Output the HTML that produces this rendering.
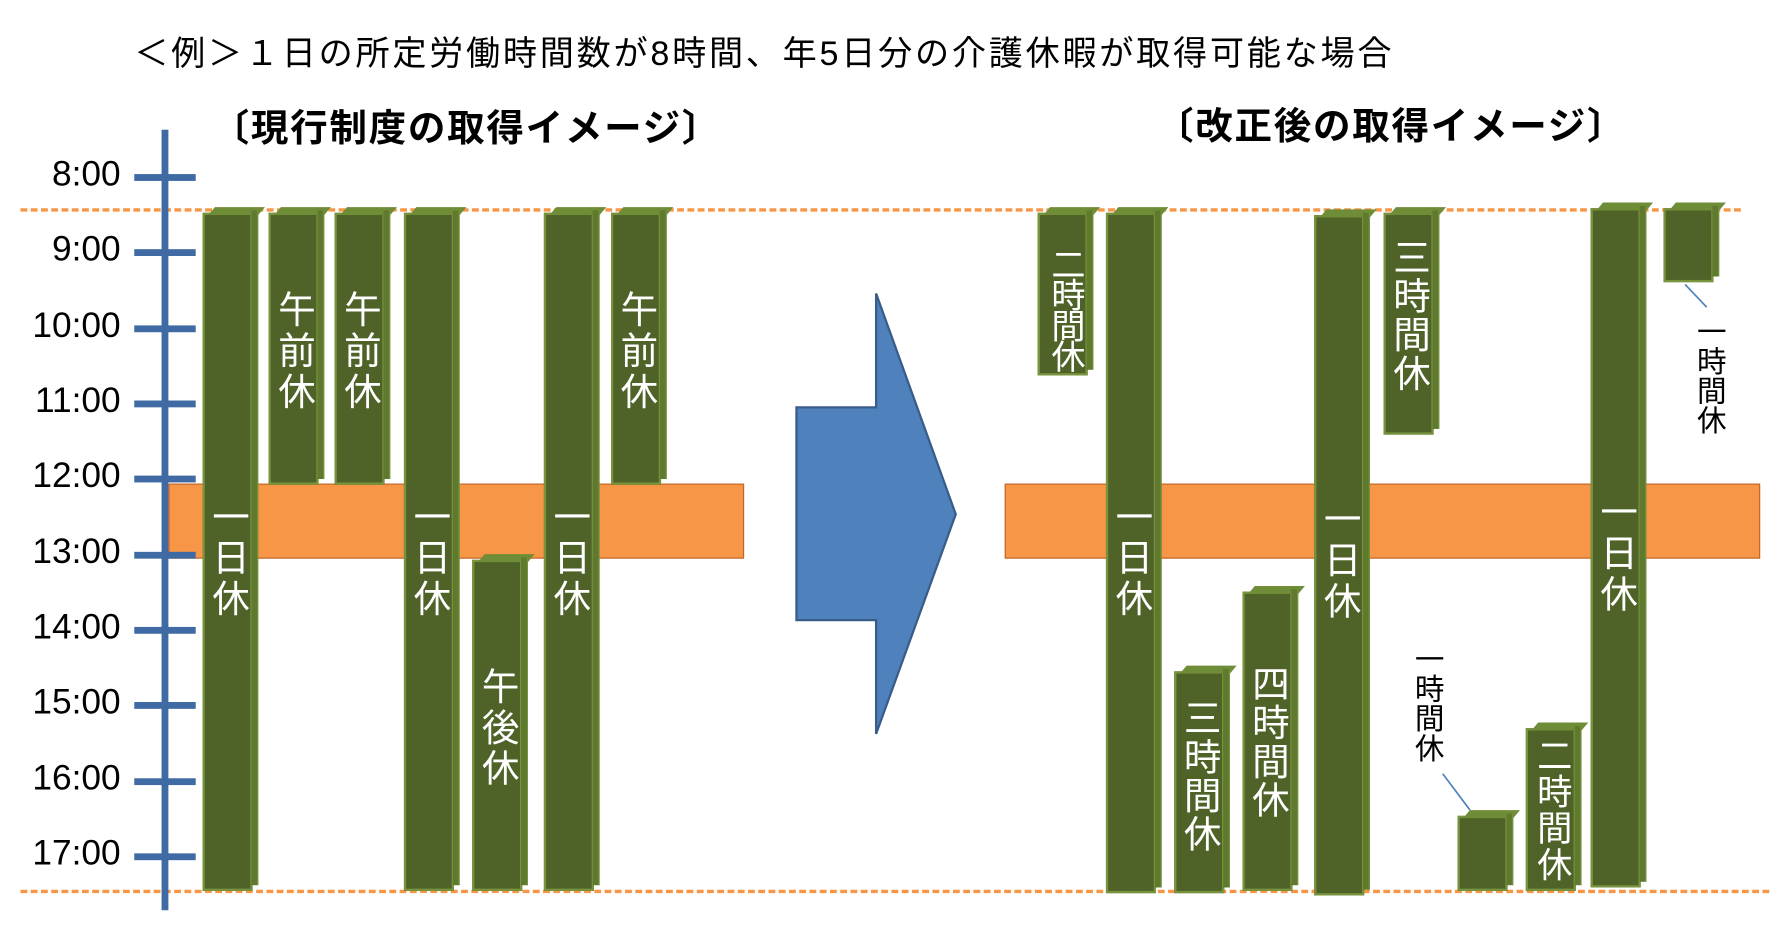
<!DOCTYPE html>
<html><head><meta charset="utf-8"><style>
body{margin:0;width:1784px;height:926px;background:#fff;overflow:hidden;font-family:"Liberation Sans","Noto Sans CJK JP",sans-serif}
#s{position:absolute;left:0;top:0;width:1568px;height:814px;transform:scale(1.1378);transform-origin:0 0}
.a{position:absolute}
.t{font-size:30px;color:#000;white-space:nowrap}
.h{position:absolute;font-size:31px;color:#000;width:104px;text-align:right;left:2px}
.k{position:absolute;left:118px;width:54px;height:6px;background:#3f6aa3}
.b{position:absolute;width:44px;background:#4f6228;border:2px solid #77933c;box-sizing:border-box}
.b::before{content:"";position:absolute;left:3px;right:-7px;top:-7px;height:7px;background:#6f8c36;transform:skewX(-40deg);transform-origin:0 100%}
.b::after{content:"";position:absolute;right:-7px;width:5px;top:-4px;bottom:3px;background:#5f7a2f;border-right:1px solid #77933c}
.v{position:absolute;left:0;width:40px;writing-mode:vertical-rl;text-orientation:upright;color:#fff;font-size:33px;line-height:40px;letter-spacing:3px}
.o{position:absolute;background:#f79646;border:1px solid #c0662a;height:64px;top:425px}
.d{position:absolute;height:0;border-top:3px dashed #f79646}
.n{position:absolute;writing-mode:vertical-rl;text-orientation:upright;font-size:26px;line-height:28px;color:#000}
</style></head><body><div id="s">
<div class="a t" style="left:118px;top:22px;letter-spacing:2.4px">＜例＞１日の所定労働時間数が8時間、年5日分の介護休暇が取得可能な場合</div>
<div class="a t" style="left:186px;top:86px;font-size:33px;font-weight:bold;letter-spacing:1.5px">〔現行制度の取得イメージ〕</div>
<div class="a t" style="left:1016px;top:84px;font-size:33px;font-weight:bold;letter-spacing:1.5px">〔改正後の取得イメージ〕</div>

<div class="o" style="left:148px;width:504px"></div>
<div class="o" style="left:883px;width:662px"></div>
<div class="d" style="left:18px;width:1512px;top:183px"></div>
<div class="d" style="left:18px;width:1537px;top:782px"></div>

<div class="a" style="left:142px;top:114px;width:6px;height:686px;background:#3f6aa3"></div>
<div class="k" style="top:153px"></div><div class="h" style="top:135px">8:00</div>
<div class="k" style="top:219px"></div><div class="h" style="top:201px">9:00</div>
<div class="k" style="top:286px"></div><div class="h" style="top:268px">10:00</div>
<div class="k" style="top:352px"></div><div class="h" style="top:334px">11:00</div>
<div class="k" style="top:418px"></div><div class="h" style="top:400px">12:00</div>
<div class="k" style="top:485px"></div><div class="h" style="top:467px">13:00</div>
<div class="k" style="top:551px"></div><div class="h" style="top:533px">14:00</div>
<div class="k" style="top:617px"></div><div class="h" style="top:599px">15:00</div>
<div class="k" style="top:684px"></div><div class="h" style="top:666px">16:00</div>
<div class="k" style="top:750px"></div><div class="h" style="top:732px">17:00</div>

<svg class="a" style="left:0;top:0" width="1568" height="814">
<polygon points="700,358 770,358 770,258 840,452 770,645 770,545 700,545" fill="#4f81bd" stroke="#385d8a" stroke-width="2"/>
<line x1="1268" y1="680" x2="1292" y2="712" stroke="#4f81bd" stroke-width="1.5"/>
<line x1="1481" y1="250" x2="1500" y2="270" stroke="#4f81bd" stroke-width="1.5"/>
</svg>

<div class="b" style="left:178px;top:187px;height:596px"><div class="v" style="top:248px">一日休</div></div>
<div class="b" style="left:236px;top:187px;height:239px"><div class="v" style="top:66px">午前休</div></div>
<div class="b" style="left:294px;top:187px;height:239px"><div class="v" style="top:66px">午前休</div></div>
<div class="b" style="left:355px;top:187px;height:596px"><div class="v" style="top:248px">一日休</div></div>
<div class="b" style="left:415px;top:492px;height:291px"><div class="v" style="top:92px">午後休</div></div>
<div class="b" style="left:478px;top:187px;height:596px"><div class="v" style="top:248px">一日休</div></div>
<div class="b" style="left:537px;top:187px;height:239px"><div class="v" style="top:66px">午前休</div></div>

<div class="b" style="left:912px;top:187px;height:143px"><div class="v" style="top:28px;font-size:30px;line-height:27px;letter-spacing:-3px;left:5px;width:30px">二時間休</div></div>
<div class="b" style="left:972px;top:187px;height:598px"><div class="v" style="top:248px">一日休</div></div>
<div class="b" style="left:1032px;top:590px;height:195px"><div class="v" style="top:22px;letter-spacing:1px">三時間休</div></div>
<div class="b" style="left:1092px;top:520px;height:263px"><div class="v" style="top:62px;letter-spacing:1px">四時間休</div></div>
<div class="b" style="left:1155px;top:189px;height:598px"><div class="v" style="top:248px">一日休</div></div>
<div class="b" style="left:1216px;top:187px;height:195px"><div class="v" style="top:20px;letter-spacing:1px">三時間休</div></div>
<div class="b" style="left:1281px;top:717px;height:66px"></div>
<div class="b" style="left:1341px;top:640px;height:143px"><div class="v" style="top:6px;font-size:31px;line-height:32px;letter-spacing:1px;left:4px;width:32px">二時間休</div></div>
<div class="b" style="left:1398px;top:183px;height:597px"><div class="v" style="top:248px">一日休</div></div>
<div class="b" style="left:1462px;top:183px;height:65px"></div>

<div class="n" style="left:1241px;top:566px">一時間休</div>
<div class="n" style="left:1489px;top:278px">一時間休</div>
</div></body></html>
